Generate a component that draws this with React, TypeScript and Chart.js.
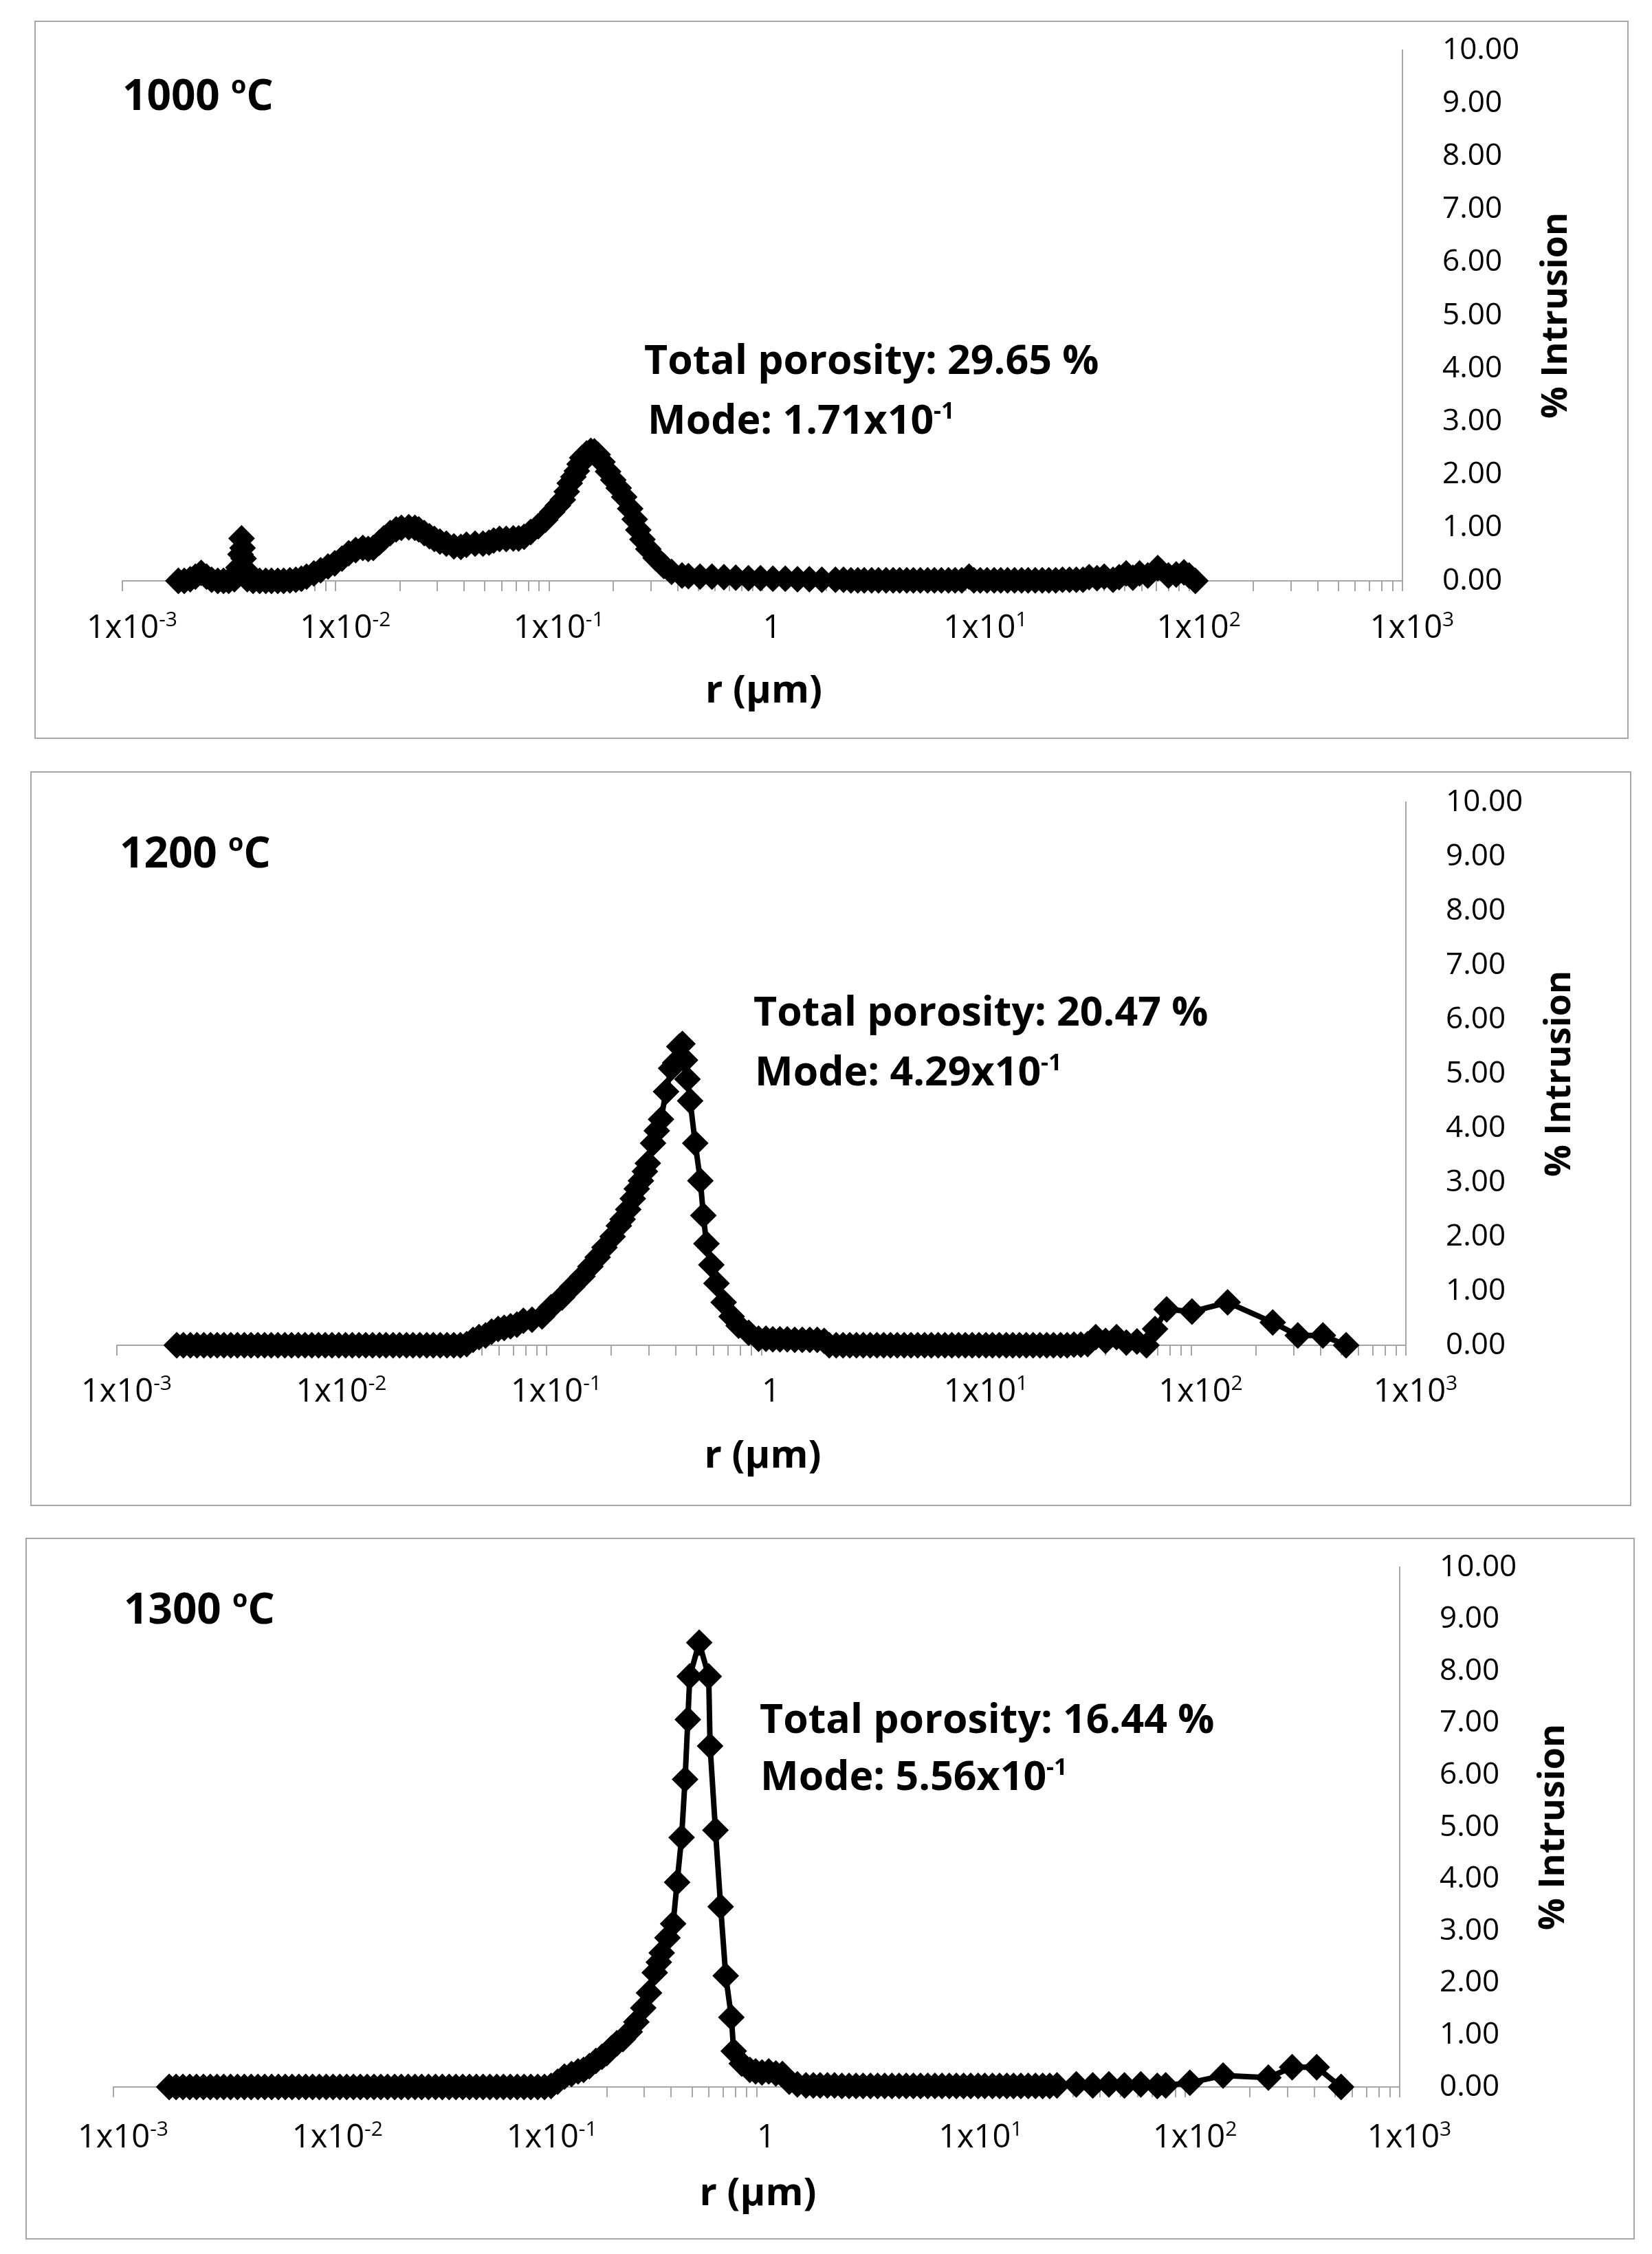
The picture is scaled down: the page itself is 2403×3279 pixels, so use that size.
import React, { useEffect, useRef } from 'react';
import { Chart, registerables } from 'chart.js';

Chart.register(...registerables);

// ---- data (r in µm, % intrusion) ----
const r1000 = [
  0.00183, 0.00195, 0.00208, 0.0022, 0.00234, 0.00248, 0.00262, 0.0028, 0.00298, 0.00315,
  0.00335, 0.0035, 0.00358, 0.00362, 0.00366, 0.0037, 0.00376, 0.00385, 0.0041, 0.0044,
  0.0047, 0.005, 0.00535, 0.0057, 0.0061, 0.0065, 0.0069, 0.0073, 0.0079, 0.0085,
  0.0092, 0.0099, 0.0107, 0.0115, 0.0124, 0.0134, 0.0142, 0.015, 0.016, 0.0168,
  0.018, 0.0192, 0.0203, 0.022, 0.0235, 0.0245, 0.026, 0.0275, 0.029, 0.0308,
  0.033, 0.0358, 0.0386, 0.041, 0.045, 0.049, 0.0523, 0.055, 0.0586, 0.063,
  0.068, 0.072, 0.0764, 0.082, 0.089, 0.096, 0.1035, 0.11, 0.116, 0.121,
  0.125, 0.13, 0.135, 0.139, 0.143, 0.15, 0.157, 0.163, 0.169, 0.178,
  0.189, 0.2, 0.212, 0.225, 0.24, 0.252, 0.262, 0.274, 0.292, 0.316,
  0.345, 0.375, 0.42, 0.45, 0.51, 0.58, 0.66, 0.75, 0.86, 0.98,
  1.12, 1.28, 1.46, 1.66, 1.9, 2.2, 2.4, 2.6, 2.8, 3.0,
  3.25, 3.5, 3.8, 4.1, 4.4, 4.75, 5.1, 5.5, 5.95, 6.4,
  6.9, 7.45, 8.0, 8.6, 9.3, 9.8, 10.5, 11.3, 12.2, 13.1,
  14.1, 15.2, 16.4, 17.6, 19, 20.5, 22, 23.7, 25.5, 27.5,
  29.6, 31.8, 34, 37, 40, 44, 47, 50.7, 54.5, 58.6,
  64, 71.3, 80, 87, 94.6, 100, 107,
];
const v1000 = [
  0, 0, 0.03, 0.08, 0.15, 0.08, 0.02, 0, 0, 0,
  0.03, 0.25, 0.5, 0.8, 0.62, 0.42, 0.22, 0.03, 0, 0,
  0, 0, 0, 0, 0.01, 0.02, 0.04, 0.08, 0.14, 0.2,
  0.27, 0.33, 0.42, 0.52, 0.58, 0.62, 0.6, 0.62, 0.72, 0.8,
  0.9, 0.97, 1.0, 1.01, 1.0, 0.97, 0.9, 0.84, 0.79, 0.74,
  0.7, 0.65, 0.64, 0.68, 0.7, 0.7, 0.72, 0.76, 0.79, 0.79,
  0.8, 0.8, 0.83, 0.92, 1.03, 1.15, 1.3, 1.42, 1.53, 1.68,
  1.84, 1.96, 2.07, 2.2, 2.32, 2.4, 2.45, 2.44, 2.38, 2.24,
  2.06, 1.9, 1.75, 1.58, 1.36, 1.16, 0.96, 0.78, 0.6, 0.43,
  0.28, 0.17, 0.1, 0.09, 0.08, 0.08, 0.07, 0.06, 0.05, 0.05,
  0.04, 0.04, 0.03, 0.03, 0.02, 0.02, 0.02, 0.01, 0.01, 0.01,
  0.01, 0.01, 0.01, 0.01, 0.01, 0.01, 0.01, 0.01, 0.01, 0.01,
  0.01, 0.01, 0.01, 0.01, 0.08, 0.01, 0.01, 0.01, 0.01, 0.01,
  0.01, 0.01, 0.01, 0.01, 0.01, 0.01, 0.01, 0.01, 0.02, 0.02,
  0.02, 0.02, 0.07, 0.05, 0.08, 0.02, 0.07, 0.14, 0.06, 0.14,
  0.1, 0.24, 0.1, 0.12, 0.16, 0.1, 0,
];

const r1200 = [
  0.0019, 0.00204, 0.0022, 0.00236, 0.00254, 0.00273, 0.00293, 0.00315, 0.00339, 0.00364,
  0.00392, 0.00421, 0.00453, 0.00487, 0.00523, 0.00562, 0.00605, 0.0065, 0.00699, 0.00751,
  0.00808, 0.00868, 0.00933, 0.01003, 0.01079, 0.0116, 0.01247, 0.0134, 0.0144, 0.0155,
  0.0167, 0.0179, 0.0193, 0.0207, 0.0223, 0.0239, 0.0257, 0.0277, 0.0297, 0.032,
  0.0344, 0.037, 0.0397, 0.0425, 0.0455, 0.0485, 0.052, 0.0555, 0.0595, 0.0635,
  0.068, 0.0728, 0.078, 0.0856, 0.0953, 0.105, 0.118, 0.132, 0.147, 0.16,
  0.173, 0.186, 0.203, 0.217, 0.226, 0.24, 0.252, 0.263, 0.275, 0.287,
  0.296, 0.313, 0.326, 0.341, 0.36, 0.38, 0.397, 0.415, 0.429, 0.441,
  0.453, 0.466, 0.492, 0.52, 0.537, 0.555, 0.585, 0.618, 0.667, 0.727,
  0.784, 0.873, 0.97, 1.05, 1.13, 1.22, 1.32, 1.43, 1.55, 1.68,
  1.82, 1.96, 2.07, 2.23, 2.4, 2.58, 2.77, 2.98, 3.21, 3.45,
  3.71, 3.99, 4.29, 4.62, 4.97, 5.34, 5.75, 6.18, 6.65, 7.15,
  7.7, 8.28, 8.9, 9.58, 10.3, 11.1, 11.9, 12.8, 13.8, 14.8,
  15.9, 17.1, 18.4, 19.8, 21.3, 22.9, 24.7, 26.5, 28.5, 30.7,
  33, 36, 40, 45, 50, 56, 62, 68, 77, 101,
  148, 240, 314, 411, 527,
];
const v1200 = [
  0, 0, 0, 0, 0, 0, 0, 0, 0, 0,
  0, 0, 0, 0, 0, 0, 0, 0, 0, 0,
  0, 0, 0, 0, 0, 0, 0, 0, 0, 0,
  0, 0, 0, 0, 0, 0, 0, 0, 0, 0,
  0, 0, 0, 0.02, 0.1, 0.15, 0.18, 0.25, 0.3, 0.32,
  0.35, 0.38, 0.45, 0.47, 0.53, 0.7, 0.88, 1.08, 1.27, 1.45,
  1.62, 1.8, 2.0, 2.2, 2.32, 2.5, 2.7, 2.88, 3.03, 3.2,
  3.35, 3.72, 3.95, 4.16, 4.67, 5.1, 5.2, 5.5, 5.55, 5.25,
  4.9, 4.5, 3.72, 3.03, 2.39, 1.87, 1.48, 1.14, 0.79, 0.53,
  0.36, 0.23, 0.12, 0.12, 0.11, 0.11, 0.11, 0.1, 0.1, 0.1,
  0.1, 0.08, 0, 0, 0, 0, 0, 0, 0, 0,
  0, 0, 0, 0, 0, 0, 0, 0, 0, 0,
  0, 0, 0, 0, 0, 0, 0, 0, 0, 0,
  0, 0, 0, 0, 0, 0, 0, 0, 0.01, 0.01,
  0.02, 0.15, 0.08, 0.15, 0.05, 0.07, 0, 0.3, 0.66, 0.62,
  0.79, 0.42, 0.18, 0.18, 0,
];

const r1300 = [
  0.00182, 0.00196, 0.00211, 0.00227, 0.00244, 0.00263, 0.00283, 0.00304, 0.00327, 0.00352,
  0.00379, 0.00408, 0.00439, 0.00472, 0.00508, 0.00547, 0.00588, 0.00633, 0.00681, 0.00733,
  0.00789, 0.00849, 0.00913, 0.00983, 0.01058, 0.01138, 0.01225, 0.01318, 0.01418, 0.01526,
  0.01642, 0.01767, 0.019, 0.0205, 0.022, 0.0237, 0.0255, 0.0274, 0.0295, 0.0318,
  0.0342, 0.0368, 0.0396, 0.0426, 0.0458, 0.0493, 0.053, 0.057, 0.0614, 0.066,
  0.071, 0.0765, 0.0823, 0.0885, 0.0953, 0.1025, 0.11, 0.118, 0.127, 0.137,
  0.147, 0.156, 0.166, 0.178, 0.19, 0.2, 0.211, 0.223, 0.238, 0.256,
  0.275, 0.296, 0.315, 0.335, 0.35, 0.361, 0.384, 0.408, 0.426, 0.447,
  0.464, 0.478, 0.488, 0.54, 0.598, 0.607, 0.643, 0.68, 0.718, 0.763,
  0.782, 0.853, 0.93, 0.99, 1.06, 1.14, 1.23, 1.32, 1.42, 1.55,
  1.7, 1.84, 1.98, 2.14, 2.31, 2.5, 2.7, 2.91, 3.14, 3.4,
  3.67, 3.96, 4.28, 4.62, 4.99, 5.39, 5.82, 6.29, 6.79, 7.33,
  7.92, 8.55, 9.24, 9.98, 10.8, 11.6, 12.6, 13.6, 14.7, 15.8,
  17.1, 18.5, 20, 21.6, 23.3, 25.2, 31, 37, 44, 52,
  62, 74, 81, 105, 150, 244, 315, 410, 533,
];
const v1300 = [
  0, 0, 0, 0, 0, 0, 0, 0, 0, 0,
  0, 0, 0, 0, 0, 0, 0, 0, 0, 0,
  0, 0, 0, 0, 0, 0, 0, 0, 0, 0,
  0, 0, 0, 0, 0, 0, 0, 0, 0, 0,
  0, 0, 0, 0, 0, 0, 0, 0, 0, 0,
  0, 0, 0, 0, 0, 0, 0.02, 0.1, 0.2, 0.25,
  0.3, 0.33, 0.4, 0.5, 0.58, 0.65, 0.75, 0.84, 0.92, 1.06,
  1.25, 1.52, 1.81, 2.2, 2.4, 2.58, 2.87, 3.14, 3.94, 4.8,
  5.92, 7.07, 7.9, 8.55, 7.9, 6.56, 4.94, 3.47, 2.14, 1.34,
  0.69, 0.45, 0.33, 0.3, 0.28, 0.3, 0.26, 0.25, 0.1, 0.05,
  0.03, 0.03, 0.03, 0.03, 0.03, 0.02, 0.02, 0.02, 0.02, 0.02,
  0.02, 0.02, 0.02, 0.02, 0.02, 0.02, 0.02, 0.02, 0.02, 0.02,
  0.02, 0.02, 0.02, 0.02, 0.02, 0.02, 0.02, 0.02, 0.02, 0.02,
  0.02, 0.02, 0.02, 0.02, 0.02, 0.03, 0.05, 0.03, 0.05, 0.03,
  0.05, 0.02, 0.03, 0.08, 0.22, 0.18, 0.38, 0.38, 0,
];

const temperatures = ['1000', '1200', '1300'];
const porosities = ['29.65', '20.47', '16.44'];
const modeMantissas = ['1.71', '4.29', '5.56'];
const modeExponents = ['-1', '-1', '-1'];

const xTickExponents = [-3, -2, -1, 0, 1, 2, 3];
const minorMantissas = [1, 2, 3, 4, 5, 6, 7, 8, 9];

const SERIES = [
  [r1000, v1000],
  [r1200, v1200],
  [r1300, v1300],
];

// ---- layout (page pixels) ----
const LAYOUT = [
  { box: [50, 30, 2319, 1045], plot: [178, 2040, 73, 845], temp: [178, 138], total: [937, 523], mode: [942, 610], tickBase: 83, titleY: 177 },
  { box: [44, 1122, 2329, 1069], plot: [170, 2045, 1167, 1957], temp: [174, 1240], total: [1096, 1471], mode: [1098, 1558], tickBase: 82, titleY: 178 },
  { box: [37, 2237, 2341, 1021], plot: [165, 2036, 2280, 3036], temp: [180, 2340], total: [1105, 2500], mode: [1106, 2583], tickBase: 88, titleY: 172 },
];

const FONT = '"Open Sans", "DejaVu Sans", sans-serif';
const AXIS = '#a6a6a6';

const xTickValues: number[] = [];
xTickExponents.slice(0, -1).forEach((e) => {
  minorMantissas.forEach((m) => xTickValues.push(m * Math.pow(10, e)));
});
xTickValues.push(Math.pow(10, xTickExponents[xTickExponents.length - 1]));

type Part = { t: string; size: number; rise?: number };

function drawParts(
  ctx: CanvasRenderingContext2D,
  parts: Part[],
  x: number,
  y: number,
  weight: string,
  align: 'left' | 'center'
) {
  const widths = parts.map((p) => {
    ctx.font = `${weight} ${p.size}px ${FONT}`;
    return ctx.measureText(p.t).width;
  });
  const total = widths.reduce((a, b) => a + b, 0);
  let cx = align === 'center' ? x - total / 2 : x;
  ctx.textAlign = 'left';
  ctx.textBaseline = 'alphabetic';
  parts.forEach((p, i) => {
    ctx.font = `${weight} ${p.size}px ${FONT}`;
    ctx.fillText(p.t, cx, y - (p.rise || 0));
    cx += widths[i];
  });
}

function Panel({ idx }: { idx: number }) {
  const ref = useRef<HTMLCanvasElement | null>(null);
  const L = LAYOUT[idx];
  const [bx, by, bw, bh] = L.box;

  useEffect(() => {
    if (!ref.current) return;
    const [px0, px1, py10, py0] = L.plot;
    const left = px0 - bx;
    const right = px1 - bx;
    const top = py10 - by;
    const bottom = py0 - by;
    const [rs, vs] = SERIES[idx];

    const textPlugin = {
      id: 'panelText',
      afterDraw(chart: any) {
        const ctx: CanvasRenderingContext2D = chart.ctx;
        const xs = chart.scales.x;
        const area = chart.chartArea;
        ctx.save();
        ctx.fillStyle = '#000';

        // x tick labels with superscript exponents
        xTickExponents.forEach((e) => {
          const px = xs.getPixelForValue(Math.pow(10, e)) + 14;
          const parts: Part[] =
            e === 0
              ? [{ t: '1', size: 47 }]
              : [
                  { t: '1x10', size: 47 },
                  { t: String(e), size: 30, rise: 17 },
                ];
          drawParts(ctx, parts, px, area.bottom + L.tickBase, 'normal', 'center');
        });

        // x title
        drawParts(ctx, [{ t: 'r (μm)', size: 56 }], xs.getPixelForValue(1) + 2, area.bottom + L.titleY, 'bold', 'center');

        // y title, reading bottom to top
        ctx.save();
        ctx.translate(area.right + 224, (area.top + area.bottom) / 2);
        ctx.rotate(-Math.PI / 2);
        ctx.font = `bold 52px ${FONT}`;
        ctx.textAlign = 'center';
        ctx.textBaseline = 'middle';
        ctx.fillText('% Intrusion', 0, 0);
        ctx.restore();

        // temperature label
        drawParts(
          ctx,
          [
            { t: temperatures[idx] + ' ', size: 62 },
            { t: 'o', size: 36, rise: 24 },
            { t: 'C', size: 62 },
          ],
          L.temp[0] - bx,
          L.temp[1] - by + 22,
          'bold',
          'left'
        );

        // annotations
        drawParts(ctx, [{ t: `Total porosity: ${porosities[idx]} %`, size: 59 }], L.total[0] - bx, L.total[1] - by + 21, 'bold', 'left');
        drawParts(
          ctx,
          [
            { t: `Mode: ${modeMantissas[idx]}x10`, size: 59 },
            { t: modeExponents[idx], size: 34, rise: 22 },
          ],
          L.mode[0] - bx,
          L.mode[1] - by + 21,
          'bold',
          'left'
        );
        ctx.restore();
      },
    };

    const chart = new Chart(ref.current, {
      type: 'scatter',
      data: {
        datasets: [
          {
            data: rs.map((x, i) => ({ x, y: vs[i] })),
            showLine: true,
            borderColor: '#000',
            borderWidth: 8,
            borderJoinStyle: 'round',
            pointStyle: 'rectRot',
            pointRadius: 18,
            pointBorderWidth: 2,
            pointBackgroundColor: '#000',
            pointBorderColor: '#000',
            clip: false,
            tension: 0,
          } as any,
        ],
      },
      options: {
        responsive: false,
        animation: false,
        devicePixelRatio: 1,
        events: [],
        layout: { padding: { left, top, right: 0, bottom: 0 } },
        plugins: { legend: { display: false }, tooltip: { enabled: false } },
        scales: {
          x: {
            type: 'logarithmic',
            position: 'bottom',
            min: 1e-3,
            max: 1e3,
            afterBuildTicks: (s: any) => {
              s.ticks = xTickValues.map((value) => ({ value }));
            },
            afterFit: (s: any) => {
              s.height = bh - bottom;
              s.paddingLeft = 0;
              s.paddingRight = 0;
            },
            ticks: { display: false },
            grid: {
              display: true,
              drawOnChartArea: false,
              drawTicks: true,
              tickLength: 15,
              color: AXIS,
              lineWidth: 2,
            },
            border: { display: true, color: AXIS, width: 2 },
          },
          y: {
            type: 'linear',
            position: 'right',
            min: 0,
            max: 10,
            afterFit: (s: any) => {
              s.width = bw - right;
              s.paddingTop = 0;
              s.paddingBottom = 0;
            },
            ticks: {
              stepSize: 1,
              padding: 50,
              color: '#000',
              font: { family: FONT, size: 44 },
              callback: (v: any) => Number(v).toFixed(2),
            },
            grid: { display: false },
            border: { display: true, color: AXIS, width: 2 },
          },
        },
      } as any,
      plugins: [textPlugin],
    });

    return () => chart.destroy();
  }, [idx]);

  return (
    <>
      <div
        style={{
          position: 'absolute',
          left: bx,
          top: by,
          width: bw,
          height: bh,
          border: '2px solid #a6a6a6',
          boxSizing: 'border-box',
          background: '#fff',
        }}
      />
      <canvas
        ref={ref}
        width={bw}
        height={bh}
        style={{ position: 'absolute', left: bx, top: by, width: bw, height: bh }}
      />
    </>
  );
}

export default function App() {
  return (
    <div
      style={{
        position: 'absolute',
        left: 0,
        top: 0,
        width: 2403,
        height: 3279,
        background: '#fff',
        overflow: 'hidden',
      }}
    >
      {LAYOUT.map((_, i) => (
        <Panel key={i} idx={i} />
      ))}
    </div>
  );
}
